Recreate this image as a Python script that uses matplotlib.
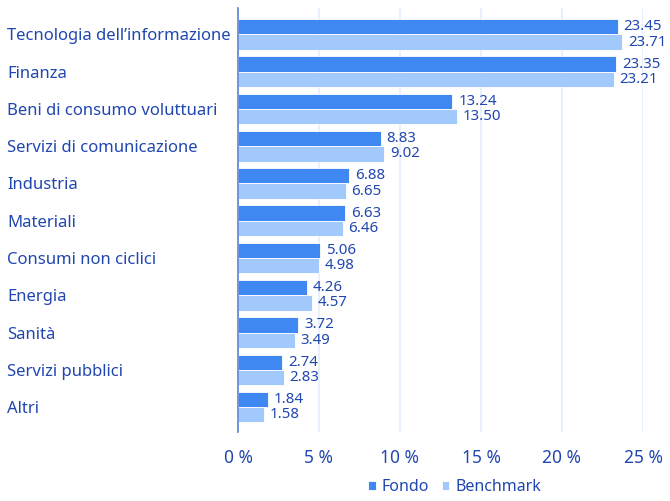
import matplotlib
matplotlib.use("Agg")
import matplotlib.pyplot as plt
import numpy as np

plt.rcParams['font.family'] = ['Noto Sans', 'DejaVu Sans']

# dati
categorie = ["Tecnologia dell\u2019informazione", "Finanza", "Beni di consumo voluttuari",
             "Servizi di comunicazione", "Industria", "Materiali", "Consumi non ciclici",
             "Energia", "Sanità", "Servizi pubblici", "Altri"]
fondo = [23.45, 23.35, 13.24, 8.83, 6.88, 6.63, 5.06, 4.26, 3.72, 2.74, 1.84]
benchmark = [23.71, 23.21, 13.50, 9.02, 6.65, 6.46, 4.98, 4.57, 3.49, 2.83, 1.58]
ticks_x = [0, 5, 10, 15, 20, 25]

col_fondo = "#3f88f2"
col_bench = "#a2c9fb"
col_testo = "#2046b0"

fig = plt.figure(figsize=(6.7, 5.01), dpi=100)
ax = fig.add_axes([238/670, 1-432/501, (643-238)/670, (432-8)/501])

y = np.arange(len(categorie))
h = 0.41
ax.barh(y - h/2, fondo, height=h, color=col_fondo, edgecolor="white", linewidth=0.6, zorder=3, label="Fondo")
ax.barh(y + h/2, benchmark, height=h, color=col_bench, edgecolor="white", linewidth=0.6, zorder=3, label="Benchmark")

for i in range(len(categorie)):
    ax.text(fondo[i] + 0.35, y[i] - h/2, "%.2f" % fondo[i], va="center", ha="left",
            fontsize=10.8, color=col_testo, clip_on=False)
    ax.text(benchmark[i] + 0.35, y[i] + h/2, "%.2f" % benchmark[i], va="center", ha="left",
            fontsize=10.8, color=col_testo, clip_on=False)

ax.set_xlim(0, 25)
ax.set_ylim(10.67, -0.71)
ax.set_xticks(ticks_x)
ax.set_xticklabels(["%d %%" % t for t in ticks_x])
ax.set_yticks(y)
ax.set_yticklabels(categorie)
ax.tick_params(axis="x", length=0, pad=12, labelsize=12.5, labelcolor=col_testo)
# pad in punti: bordo sinistro delle etichette a ~7 px dal bordo
ax.tick_params(axis="y", length=0, pad=231*0.72, labelsize=12, labelcolor=col_testo)
for lab in ax.get_yticklabels():
    lab.set_horizontalalignment("left")

ax.grid(axis="x", color="#e3eefc", linewidth=1.2, zorder=0)
for s in ["top", "right", "bottom"]:
    ax.spines[s].set_visible(False)
ax.spines["left"].set_color("#5b80d6")
ax.spines["left"].set_linewidth(1.2)
ax.spines["left"].set_zorder(4)

leg = fig.legend(loc="center", bbox_to_anchor=(455/670, 1-487/501), ncol=2, frameon=False,
                 fontsize=11.5, handlelength=0.45, handleheight=0.45, handletextpad=0.4,
                 columnspacing=0.8, labelcolor=col_testo)

fig.savefig("out.png", dpi=100)
